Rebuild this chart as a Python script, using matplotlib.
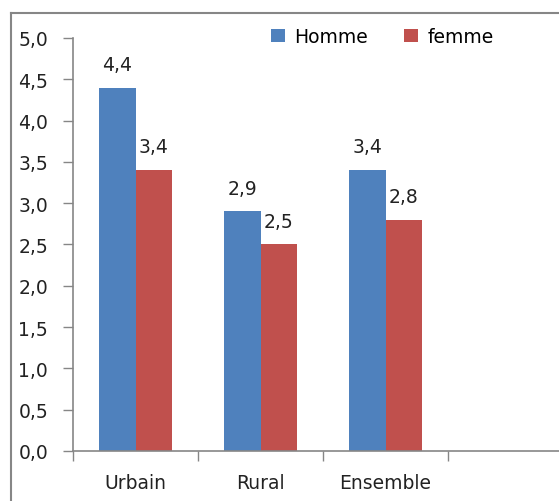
import numpy as np
from matplotlib import pyplot as plt
from matplotlib.lines import Line2D

categories = ['Urbain', 'Rural', 'Ensemble']
homme = [4.4, 2.9, 3.4]
femme = [3.4, 2.5, 2.8]
series_names = ['Homme', 'femme']
y_ticks = [0.0, 0.5, 1.0, 1.5, 2.0, 2.5, 3.0, 3.5, 4.0, 4.5, 5.0]

blue = '#4F81BD'
red = '#C0504D'
grey = '#868686'
fs = 13.5

fig = plt.figure(figsize=(5.59, 5.02), dpi=100)
ax = fig.add_axes([73 / 559, 50 / 502, 486 / 559, 413 / 502])

x = np.arange(len(categories))
w = 0.29
b1 = ax.bar(x - w / 2, homme, w, color=blue, label=series_names[0])
b2 = ax.bar(x + w / 2, femme, w, color=red, label=series_names[1])

fmt = lambda v: f'{v:.1f}'.replace('.', ',')
for bars, vals in ((b1, homme), (b2, femme)):
    for bar, v in zip(bars, vals):
        ax.annotate(fmt(v), (bar.get_x() + bar.get_width() / 2, v),
                    xytext=(0, 10), textcoords='offset points',
                    ha='center', va='bottom', fontsize=fs, color='#222222')

ax.set_xlim(-0.5, -0.5 + 486 / 125)
ax.set_ylim(0, 5)

ax.set_yticks(y_ticks)
ax.set_yticklabels([fmt(t) for t in y_ticks], fontsize=fs, color='#222222')
ax.tick_params(axis='y', length=7, width=1, color=grey, pad=11)

ax.set_xticks(x)
ax.set_xticklabels(categories, fontsize=fs, color='#222222')
ax.set_xticks(np.arange(len(categories) + 1) - 0.5, minor=True)
ax.tick_params(axis='x', which='major', length=0, pad=16)
ax.tick_params(axis='x', which='minor', length=7, width=1, color=grey)

for s in ['top', 'right']:
    ax.spines[s].set_visible(False)
for s in ['left', 'bottom']:
    ax.spines[s].set_color(grey)
    ax.spines[s].set_linewidth(1.2)

ax.legend(loc='upper left', bbox_to_anchor=(271 / 559, 1 - 28 / 502),
          bbox_transform=fig.transFigure, ncol=2, frameon=False,
          fontsize=fs, handlelength=0.75, handleheight=0.75,
          handletextpad=0.5, columnspacing=1.9, borderpad=0, borderaxespad=0)

# outer chart frame
fig.add_artist(Line2D([11 / 559, 11 / 559], [0, 1 - 14 / 502], color=grey, lw=1.5))
fig.add_artist(Line2D([11 / 559, 1], [1 - 14 / 502, 1 - 14 / 502], color=grey, lw=1.5))

fig.savefig('out.png', dpi=100)
